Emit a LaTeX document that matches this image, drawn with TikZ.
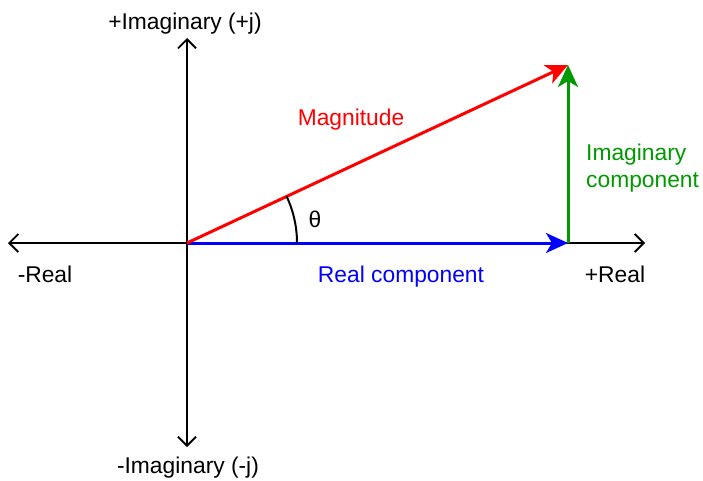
\documentclass[tikz,border=0pt]{standalone}
\usepackage{fontspec}
\setmainfont{Liberation Sans}
\usetikzlibrary{arrows.meta, calc}
\definecolor{vecred}{RGB}{255,0,0}
\definecolor{vecblue}{RGB}{0,0,255}
\definecolor{vecgreen}{RGB}{0,153,0}
\tikzset{
  axis/.style={line width=1.8pt, -{Straight Barb[length=9pt,width=18pt]}},
  vec/.style={line width=3pt, -{Stealth[length=22pt,width=20pt,inset=6pt]}},
  lbl/.style={font=\fontsize{22.8}{26}\selectfont, inner sep=0pt}
}
\begin{document}
\begin{tikzpicture}[x=1pt, y=1pt]
\useasboundingbox (0,0) rectangle (703,480);

% axes
\coordinate (O) at (187,237);
\coordinate (xpos) at (645,237);
\coordinate (xneg) at (8,237);
\coordinate (ypos) at (187,442);
\coordinate (yneg) at (187,33);
\draw[axis] (O) -- (xpos);
\draw[axis] (O) -- (xneg);
\draw[axis] (O) -- (ypos);
\draw[axis] (O) -- (yneg);

\node[lbl] (imp) at (185,456) {+Imaginary (+j)};
\node[lbl] (imn) at (188,12) {-Imaginary (-j)};
\node[lbl] (ren) at (45,206) {-Real};
\node[lbl] (rep) at (615,206) {+Real};

% components
\coordinate (R) at (568,237);
\coordinate (T) at (568,415);
\draw[vec, vecblue] (O) -- (R);
\draw[vec, vecgreen] (R) -- (T);
\draw[vec, vecred] (O) -- (T);

% angle
\draw[line width=2pt] ($(O)+(110,0)$) arc[start angle=0, end angle=25.04, radius=110];
\node[lbl] (theta) at (315,261) {θ};

\node[lbl, vecred] (mag) at (351,360) {Magnitude};
\node[lbl, vecblue] (recomp) at (401,203) {Real component};
\node[lbl, vecgreen, align=left, anchor=west] (imcomp) at (586,312) {Imaginary\\[1pt]component};

\end{tikzpicture}
\end{document}
